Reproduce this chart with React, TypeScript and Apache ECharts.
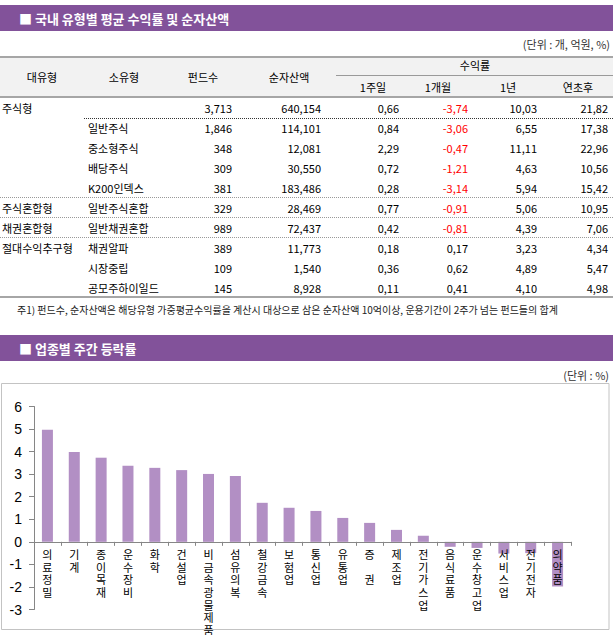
import React, { useEffect, useRef } from "react";
import * as echarts from "echarts";

// ---------- Table data ----------
const headerMain = ["대유형", "소유형", "펀드수", "순자산액"];
const headerReturnGroup = "수익률";
const headerReturns = ["1주일", "1개월", "1년", "연초후"];
const bigTypes = ["주식형", "", "", "", "", "주식혼합형", "채권혼합형", "절대수익추구형", "", ""];
const subTypes = ["", "일반주식", "중소형주식", "배당주식", "K200인덱스", "일반주식혼합", "일반채권혼합", "채권알파", "시장중립", "공모주하이일드"];
const fundCounts = ["3,713", "1,846", "348", "309", "381", "329", "989", "389", "109", "145"];
const netAssets = ["640,154", "114,101", "12,081", "30,550", "183,486", "28,469", "72,437", "11,773", "1,540", "8,928"];
const ret1w = [0.66, 0.84, 2.29, 0.72, 0.28, 0.77, 0.42, 0.18, 0.36, 0.11];
const ret1m = [-3.74, -3.06, -0.47, -1.21, -3.14, -0.91, -0.81, 0.17, 0.62, 0.41];
const ret1y = [10.03, 6.55, 11.11, 4.63, 5.94, 5.06, 4.39, 3.23, 4.89, 4.1];
const retYtd = [21.82, 17.38, 22.96, 10.56, 15.42, 10.95, 7.06, 4.34, 5.47, 4.98];

const title1 = "■ 국내 유형별 평균 수익률 및 순자산액";
const unit1 = "(단위 : 개, 억원, %)";
const footnote = "주1) 펀드수, 순자산액은 해당유형 가중평균수익률을 계산시 대상으로 삼은 순자산액 10억이상, 운용기간이 2주가 넘는 펀드들의 합계";

// ---------- Chart data ----------
const title2 = "■ 업종별 주간 등락률";
const unit2 = "(단위 : %)";
const sectors = ["의료정밀", "기계", "종이목재", "운수장비", "화학", "건설업", "비금속광물제품", "섬유의복", "철강금속", "보험업", "통신업", "유통업", "증 권", "제조업", "전기가스업", "음식료품", "운수창고업", "서비스업", "전기전자", "의약품"];
const weeklyChange = [4.97, 3.98, 3.73, 3.37, 3.28, 3.18, 3.01, 2.92, 1.73, 1.51, 1.37, 1.06, 0.84, 0.53, 0.27, -0.22, -0.27, -0.52, -0.5, -1.98];
const yMin = -3;
const yMax = 6;

const FONT = '"Noto Sans CJK KR", "Noto Sans", sans-serif';
const PURPLE = "#82529a";

function fmt(v: number): string {
  const s = Math.abs(v).toFixed(2).replace(".", ",");
  return v < 0 ? "-" + s : s;
}

function txt(text: string, x: number, y: number, opts: any = {}) {
  return {
    type: "text",
    x,
    y,
    silent: true,
    z: 10,
    style: {
      text,
      fill: opts.fill || "#000",
      fontSize: opts.fontSize || 11,
      fontFamily: FONT,
      fontWeight: opts.fontWeight || "normal",
      align: opts.align || "left",
      verticalAlign: "middle",
    },
  };
}

function hline(x1: number, x2: number, y: number, stroke: string, lineWidth = 1, dash?: number[]) {
  return {
    type: "line",
    silent: true,
    z: 9,
    shape: { x1, y1: y, x2, y2: y },
    style: { stroke, lineWidth, lineDash: dash || null },
  };
}

export default function App() {
  const ref = useRef<HTMLDivElement>(null);
  useEffect(() => {
    if (!ref.current) return;
    const chart = echarts.init(ref.current, null, { renderer: "svg" });

    const g: any[] = [];
    // Title bar 1
    g.push({ type: "rect", z: 1, shape: { x: 0, y: 5, width: 613, height: 26 }, style: { fill: PURPLE } });
    g.push(txt(title1, 19, 18.5, { fill: "#fff", fontSize: 13, fontWeight: "bold" }));
    g.push(txt(unit1, 610, 44, { fill: "#333", align: "right" }));

    // Table header
    g.push({ type: "rect", z: 1, shape: { x: 0, y: 57, width: 613, height: 40 }, style: { fill: "#f2f2f2" } });
    g.push(hline(0, 613, 57, "#a6a6a6", 2));
    g.push(hline(0, 613, 97, "#a6a6a6", 2));
    g.push(hline(336, 613, 75.5, "#9a9a9a", 1));
    const mainX = [42, 124, 203, 289];
    headerMain.forEach((h, i) => g.push(txt(h, mainX[i], 77, { align: "center" })));
    g.push(txt(headerReturnGroup, 475, 65, { align: "center" }));
    const retHX = [373, 438, 508, 578];
    headerReturns.forEach((h, i) => g.push(txt(h, retHX[i], 87, { align: "center" })));

    // Table rows
    const colRight = [232, 321, 399, 468, 537, 608];
    for (let i = 0; i < subTypes.length; i++) {
      const y = 108 + 20 * i;
      if (bigTypes[i]) g.push(txt(bigTypes[i], 2, y));
      if (subTypes[i]) g.push(txt(subTypes[i], 88, y));
      g.push(txt(fundCounts[i], colRight[0], y, { align: "right" }));
      g.push(txt(netAssets[i], colRight[1], y, { align: "right" }));
      g.push(txt(fmt(ret1w[i]), colRight[2], y, { align: "right" }));
      g.push(txt(fmt(ret1m[i]), colRight[3], y, { align: "right", fill: ret1m[i] < 0 ? "#ff0000" : "#000" }));
      g.push(txt(fmt(ret1y[i]), colRight[4], y, { align: "right" }));
      g.push(txt(fmt(retYtd[i]), colRight[5], y, { align: "right" }));
    }
    g.push(hline(84, 613, 118.5, "#333", 1, [1, 1]));
    g.push(hline(0, 613, 197.5, "#999", 1, [1, 1]));
    g.push(hline(0, 613, 217.5, "#999", 1, [1, 1]));
    g.push(hline(0, 613, 237.5, "#999", 1, [1, 1]));
    g.push(hline(0, 613, 297, "#a6a6a6", 2));
    g.push(txt(footnote, 17, 309.5, { fontSize: 10, fill: "#222" }));

    // Title bar 2
    g.push({ type: "rect", z: 1, shape: { x: 0, y: 335, width: 613, height: 26 }, style: { fill: PURPLE } });
    g.push(txt(title2, 19, 348.5, { fill: "#fff", fontSize: 13, fontWeight: "bold" }));
    g.push(txt(unit2, 609, 375, { fill: "#333", align: "right" }));
    // Chart box
    g.push({ type: "rect", z: 0, shape: { x: 1.5, y: 383.5, width: 607.5, height: 246 }, style: { fill: "none", stroke: "#c3c3c3", lineWidth: 1 } });

    const gridTop = 406.5;
    const gridBottom = 25.5;
    const gridH = 635 - gridTop - gridBottom;
    // shift the category axis from the grid's bottom edge up to the value 0
    const zeroOffset = -gridH * (0 - yMin) / (yMax - yMin);

    chart.setOption({
      animation: false,
      backgroundColor: "#fff",
      graphic: { elements: g },
      grid: { left: 34, right: 42, top: gridTop, bottom: gridBottom, containLabel: false, outerBoundsMode: "none" },
      xAxis: {
        type: "category",
        data: sectors,
        z: 5,
        position: "bottom",
        offset: zeroOffset,
        axisLine: { show: true, onZero: false, lineStyle: { color: "#868686", width: 1 } },
        axisTick: { show: true, length: 4, interval: 0, lineStyle: { color: "#868686" } },
        axisLabel: {
          interval: 0,
          margin: 6,
          color: "#000",
          fontSize: 11,
          lineHeight: 12.6,
          fontFamily: FONT,
          formatter: (v: string) => v.split("").join("\n"),
        },
      },
      yAxis: {
        type: "value",
        min: yMin,
        max: yMax,
        interval: 1,
        splitLine: { show: false },
        axisLine: { show: true, lineStyle: { color: "#868686", width: 1 } },
        axisTick: { show: true, length: 5, lineStyle: { color: "#868686" } },
        axisLabel: { margin: 12, color: "#000", fontSize: 14, fontFamily: '"Liberation Sans", Arial, sans-serif' },
      },
      series: [
        {
          type: "bar",
          data: weeklyChange,
          barWidth: 11,
          itemStyle: { color: "#b28fc4" },
          z: 2,
        },
      ],
    });
    return () => chart.dispose();
  }, []);
  return <div ref={ref} style={{ position: "absolute", left: 0, top: 0, width: 613, height: 635 }} />;
}
